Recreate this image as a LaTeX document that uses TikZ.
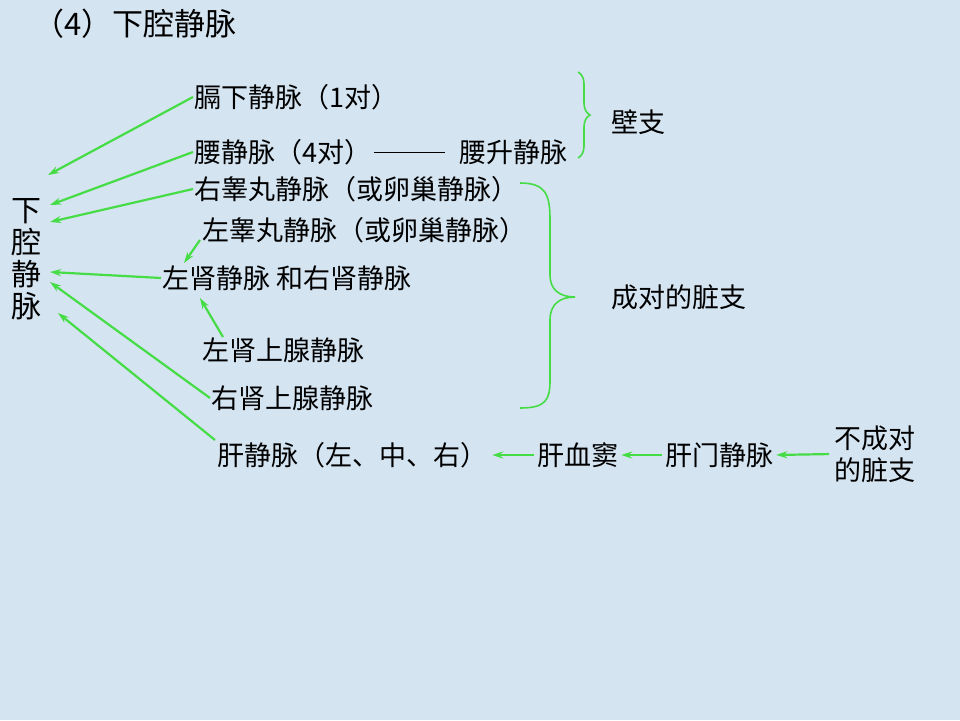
\documentclass[tikz,border=0pt]{standalone}
\usepackage{fontspec}
\setmainfont{Noto Sans CJK SC}
\usetikzlibrary{arrows.meta,decorations.pathreplacing}
\definecolor{vein}{RGB}{70,220,70}
\definecolor{paper}{RGB}{212,228,241}

\begin{document}
\begin{tikzpicture}[x=1pt,y=-1pt,->,>={Stealth[length=11pt,width=7pt]},line width=2.2pt,
  every node/.style={font=\fontsize{27}{30}\selectfont,inner sep=0pt,anchor=west},
  every edge/.append style={draw=vein}]
  \fill[paper] (0,0) rectangle (960,720);

  \node (T) [font=\fontsize{31}{32}\selectfont] at (32,24) {（4）下腔静脉};
  \node (V) [font=\fontsize{30}{32}\selectfont,align=center,anchor=center] at (27,259) {下\\腔\\静\\脉};

  \node (A) at (193,97)  {膈下静脉（1对）};
  \node (B) at (193,152) {腰静脉（4对）};
  \node (B2) at (458,152) {腰升静脉};
  \node (C) at (193,189) {右睾丸静脉（或卵巢静脉）};
  \node (D) at (201,230) {左睾丸静脉（或卵巢静脉）};
  \node (E) at (161,278) {左肾静脉 和右肾静脉};
  \node (F) at (201,350) {左肾上腺静脉};
  \node (G) at (210,398) {右肾上腺静脉};
  \node (H) at (216,455) {肝静脉（左、中、右）};
  \node (I) at (536,455) {肝血窦};
  \node (J) at (664,455) {肝门静脉};
  \node (K) [align=left,font=\fontsize{27}{32}\selectfont] at (833,454) {不成对\\的脏支};
  \node (L) at (610,122) {壁支};
  \node (M) at (610,297) {成对的脏支};

  % arrow ends
  \coordinate (v1) at (48,175);
  \coordinate (v2) at (50,205);
  \coordinate (v3) at (50,222);
  \coordinate (v4) at (50,272);
  \coordinate (v5) at (50,282);
  \coordinate (v6) at (58,313);
  \coordinate (d1) at (200,240);
  \coordinate (e1) at (184,263);
  \coordinate (f1) at (223,337);
  \coordinate (e2) at (200,298);
  \coordinate (h1) at (215,440);

  \path (A.west) edge (v1)
        (B.west) edge (v2)
        (C.west) edge (v3)
        (E.west) edge (v4)
        (G.west) edge (v5)
        (h1)     edge (v6)
        (d1)     edge (e1)
        (f1)     edge (e2)
        (I.west) edge [shorten >=4pt,shorten <=2pt] (H.east)
        (J.west) edge [shorten >=2pt,shorten <=2pt] (I.east)
        (K.west) edge [shorten >=2pt,shorten <=4pt] (J.east);

  \draw[-,line width=0.9pt,shorten <=2pt,shorten >=13pt] (B.east) -- (B2.west);

  % braces
  \draw[-,vein,line width=1.6pt,decorate,decoration={brace,amplitude=12pt}] (578,72) -- (578,158);
  \draw[-,vein,line width=1.6pt] (520,183) .. controls (546,183) and (550,195) .. (550,220) -- (550,275)
        .. controls (550,290) and (560,297) .. (575,297)
        .. controls (560,297) and (550,304) .. (550,320) -- (550,380)
        .. controls (550,400) and (546,408) .. (520,408);
\end{tikzpicture}
\end{document}
